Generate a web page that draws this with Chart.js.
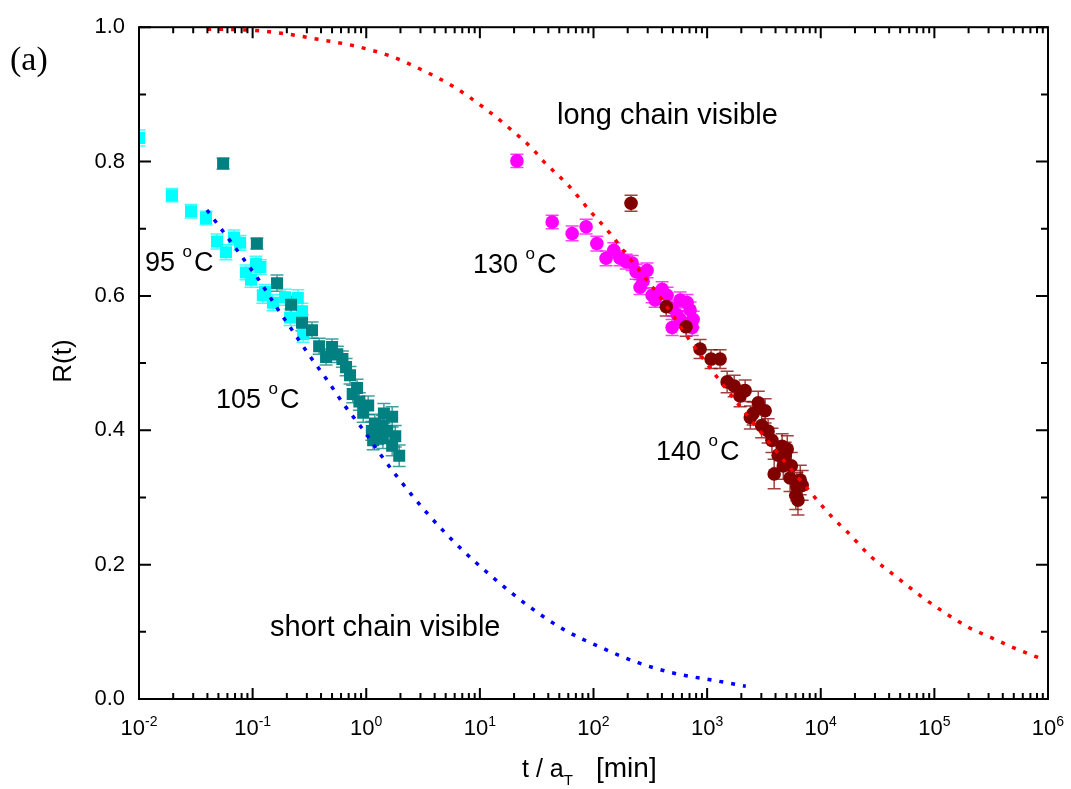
<!DOCTYPE html>
<html>
<head>
<meta charset="utf-8">
<title>R(t) master curves</title>
<script src="https://cdn.jsdelivr.net/npm/chart.js@4.4.1/dist/chart.umd.min.js"></script>
<style>
  html, body { margin: 0; padding: 0; background: #fff; }
  #chart { display: block; }
</style>
</head>
<body>
<canvas id="chart" width="1071" height="789"></canvas>
<script>
// 95 C, squares
const t95 = [0.0100, 0.0195, 0.0287, 0.0389, 0.0486, 0.0583, 0.0686, 0.0776, 0.0874, 0.0968,
  0.107, 0.117, 0.123, 0.1286, 0.151, 0.193, 0.214, 0.250, 0.272, 0.278];
const r95 = [0.835, 0.750, 0.726, 0.716, 0.681, 0.665, 0.687, 0.679, 0.635, 0.624,
  0.648, 0.643, 0.601, 0.606, 0.590, 0.598, 0.568, 0.597, 0.577, 0.543];
const e95 = [0.012, 0.010, 0.010, 0.010, 0.011, 0.011, 0.011, 0.011, 0.011, 0.011,
  0.011, 0.011, 0.012, 0.011, 0.012, 0.012, 0.012, 0.012, 0.012, 0.012];

// 105 C, squares
const t105 = [0.055, 0.109, 0.164, 0.218, 0.272, 0.333, 0.385, 0.443, 0.500, 0.556,
  0.617, 0.664, 0.720, 0.760, 0.830, 0.870, 0.940, 1.04, 1.12, 1.15,
  1.19, 1.26, 1.39, 1.40, 1.43, 1.53, 1.69, 1.69, 1.80, 1.95];
const r105 = [0.797, 0.678, 0.619, 0.587, 0.560, 0.549, 0.525, 0.509, 0.524, 0.513,
  0.506, 0.494, 0.482, 0.454, 0.463, 0.443, 0.426, 0.437, 0.399, 0.385,
  0.410, 0.393, 0.407, 0.388, 0.425, 0.399, 0.420, 0.377, 0.391, 0.362];
const e105 = [0.008, 0.008, 0.012, 0.012, 0.012, 0.012, 0.012, 0.012, 0.012, 0.012,
  0.012, 0.013, 0.013, 0.013, 0.013, 0.013, 0.014, 0.014, 0.014, 0.014,
  0.014, 0.014, 0.015, 0.015, 0.015, 0.015, 0.015, 0.015, 0.016, 0.016];

// 130 C, circles
const t130 = [21.2, 43.3, 64.9, 86.1, 107, 129, 151, 171, 194, 219,
  237, 257, 273, 296, 328, 349, 402, 444, 492, 492,
  545, 578, 578, 667, 708, 740, 753];
const r130 = [0.801, 0.710, 0.693, 0.703, 0.678, 0.656, 0.668, 0.656, 0.651, 0.649,
  0.636, 0.613, 0.622, 0.638, 0.601, 0.594, 0.610, 0.601, 0.582, 0.553,
  0.572, 0.594, 0.565, 0.590, 0.579, 0.553, 0.565];
const e130 = [0.010, 0.010, 0.011, 0.011, 0.011, 0.011, 0.011, 0.011, 0.011, 0.011,
  0.011, 0.011, 0.011, 0.011, 0.011, 0.011, 0.011, 0.012, 0.012, 0.012,
  0.012, 0.012, 0.012, 0.012, 0.012, 0.012, 0.012];

// 140 C, circles
const t140 = [214, 437, 653, 867, 1084, 1300, 1500, 1730, 1950, 2160,
  2400, 2540, 2820, 3020, 3240, 3440, 3720, 3890, 4220, 4570,
  4680, 4860, 5070, 5370, 5500, 6030, 6160, 6300, 6600, 6860];
const r140 = [0.738, 0.584, 0.554, 0.521, 0.506, 0.506, 0.472, 0.466, 0.451, 0.459,
  0.419, 0.425, 0.441, 0.407, 0.429, 0.399, 0.385, 0.335, 0.363, 0.376,
  0.347, 0.362, 0.372, 0.329, 0.347, 0.303, 0.316, 0.296, 0.326, 0.318];
const e140 = [0.012, 0.014, 0.014, 0.014, 0.014, 0.014, 0.016, 0.016, 0.016, 0.016,
  0.017, 0.017, 0.017, 0.018, 0.018, 0.018, 0.018, 0.022, 0.019, 0.019,
  0.020, 0.020, 0.020, 0.020, 0.020, 0.021, 0.021, 0.022, 0.022, 0.022];

// fitted curves
const tShort = [0.0396, 0.0824, 0.1186, 0.164, 0.227, 0.32, 0.452, 0.638, 0.918, 1.32,
  1.91, 3.5, 6.7, 12.8, 26, 54, 119, 247, 523, 1122, 2190];
const rShort = [0.728, 0.656, 0.619, 0.582, 0.547, 0.510, 0.475, 0.438, 0.403, 0.365,
  0.329, 0.275, 0.225, 0.182, 0.140, 0.104, 0.076, 0.054, 0.038, 0.028, 0.019];

const tLong = [0.0398, 0.0857, 0.18, 0.377, 0.795, 1.69, 3.5, 5.8, 11.1, 18.1,
  29.4, 36, 59.8, 91.5, 140, 171, 390, 723, 1225, 3110,
  8570, 13400, 17100, 27200, 46100, 75000, 122000, 198000, 330000, 536000, 871000];
const rLong = [0.997, 0.996, 0.991, 0.982, 0.972, 0.956, 0.932, 0.912, 0.879, 0.850,
  0.818, 0.801, 0.765, 0.728, 0.693, 0.674, 0.597, 0.531, 0.479, 0.393,
  0.303, 0.266, 0.249, 0.213, 0.182, 0.154, 0.129, 0.107, 0.090, 0.074, 0.060];

// axis ticks
const xDecades = [-2, -1, 0, 1, 2, 3, 4, 5, 6];
const yTicks = [0, 0.2, 0.4, 0.6, 0.8, 1.0];
const yMinor = [0.1, 0.3, 0.5, 0.7, 0.9];

const FONT = '"Liberation Sans", Arial, sans-serif';

function pts(xs, ys) {
  return xs.map((x, i) => ({ x: x, y: ys[i] }));
}

function series(label, xs, ys, errs, color, style, radius) {
  return {
    label: label,
    data: pts(xs, ys),
    errors: errs,
    errColor: color,
    showLine: false,
    pointStyle: style,
    pointRadius: radius,
    pointHoverRadius: radius,
    backgroundColor: color,
    borderColor: color,
    borderWidth: 0,
  };
}

function curve(label, xs, ys, color) {
  return {
    label: label,
    data: pts(xs, ys),
    showLine: true,
    borderColor: color,
    borderWidth: 3.5,
    borderDash: [4, 8],
    pointRadius: 0,
    fill: false,
    cubicInterpolationMode: "monotone",
  };
}

// draw several text pieces in a row, each with its own size and vertical shift
function drawRuns(ctx, x, y, runs, align) {
  let total = 0;
  runs.forEach((r) => {
    ctx.font = r.size + "px " + FONT;
    r.w = ctx.measureText(r.text).width;
    total += r.w + (r.gap || 0);
  });
  let cx = align === "center" ? x - total / 2 : x;
  runs.forEach((r) => {
    ctx.font = r.size + "px " + FONT;
    ctx.fillText(r.text, cx, y + (r.dy || 0));
    cx += r.w + (r.gap || 0);
  });
}

function tempLabel(ctx, x, y, num) {
  drawRuns(ctx, x, y, [
    { text: num + " ", size: 27 },
    { text: "o", size: 17, dy: -14, gap: 2 },
    { text: "C", size: 27 },
  ]);
}

// vertical error bars with caps
const errorBars = {
  id: "errorBars",
  beforeDatasetsDraw(chart) {
    const ctx = chart.ctx;
    const xs = chart.scales.x;
    const ys = chart.scales.y;
    const area = chart.chartArea;
    ctx.save();
    ctx.beginPath();
    ctx.rect(area.left, area.top, area.right - area.left, area.bottom - area.top);
    ctx.clip();
    chart.data.datasets.forEach((ds) => {
      if (!ds.errors) return;
      ctx.strokeStyle = ds.errColor;
      ctx.globalAlpha = 0.75;
      ctx.lineWidth = 1.5;
      ds.data.forEach((p, i) => {
        const px = xs.getPixelForValue(p.x);
        const top = ys.getPixelForValue(p.y + ds.errors[i]);
        const bot = ys.getPixelForValue(p.y - ds.errors[i]);
        ctx.beginPath();
        ctx.moveTo(px, top);
        ctx.lineTo(px, bot);
        ctx.moveTo(px - 6.5, top);
        ctx.lineTo(px + 6.5, top);
        ctx.moveTo(px - 6.5, bot);
        ctx.lineTo(px + 6.5, bot);
        ctx.stroke();
      });
    });
    ctx.restore();
  },
};

// box frame, inward ticks on all four sides, x labels and annotations
const frame = {
  id: "frame",
  afterDraw(chart) {
    const ctx = chart.ctx;
    const xs = chart.scales.x;
    const ys = chart.scales.y;
    const a = chart.chartArea;
    ctx.save();
    ctx.strokeStyle = "#000";
    ctx.lineWidth = 2;
    ctx.strokeRect(a.left, a.top, a.right - a.left, a.bottom - a.top);

    ctx.beginPath();
    xDecades.forEach((d, k) => {
      const major = xs.getPixelForValue(Math.pow(10, d));
      ctx.moveTo(major, a.bottom);
      ctx.lineTo(major, a.bottom - 11);
      ctx.moveTo(major, a.top);
      ctx.lineTo(major, a.top + 11);
      if (k === xDecades.length - 1) return;
      for (let m = 2; m <= 9; m++) {
        const px = xs.getPixelForValue(m * Math.pow(10, d));
        ctx.moveTo(px, a.bottom);
        ctx.lineTo(px, a.bottom - 6);
        ctx.moveTo(px, a.top);
        ctx.lineTo(px, a.top + 6);
      }
    });
    yTicks.forEach((v) => {
      const py = ys.getPixelForValue(v);
      ctx.moveTo(a.left, py);
      ctx.lineTo(a.left + 12, py);
      ctx.moveTo(a.right, py);
      ctx.lineTo(a.right - 12, py);
    });
    yMinor.forEach((v) => {
      const py = ys.getPixelForValue(v);
      ctx.moveTo(a.left, py);
      ctx.lineTo(a.left + 7, py);
      ctx.moveTo(a.right, py);
      ctx.lineTo(a.right - 7, py);
    });
    ctx.stroke();

    ctx.fillStyle = "#000";
    ctx.textBaseline = "alphabetic";
    ctx.textAlign = "left";
    xDecades.forEach((d) => {
      const px = xs.getPixelForValue(Math.pow(10, d));
      drawRuns(ctx, px, a.bottom + 36, [
        { text: "10", size: 22 },
        { text: String(d), size: 14, dy: -9 },
      ], "center");
    });

    // axis titles
    drawRuns(ctx, 522, 777, [
      { text: "t / a", size: 25 },
      { text: "T", size: 15, dy: 8 },
    ]);
    ctx.font = "28px " + FONT;
    ctx.fillText("[min]", 596, 777);

    ctx.save();
    ctx.translate(71, 361);
    ctx.rotate(-Math.PI / 2);
    ctx.textAlign = "center";
    ctx.font = "26px " + FONT;
    ctx.fillText("R(t)", 0, 0);
    ctx.restore();

    ctx.font = '34px "Liberation Serif", "Times New Roman", serif';
    ctx.fillText("(a)", 10, 70);

    tempLabel(ctx, 145, 271, "95");
    tempLabel(ctx, 216, 408, "105");
    tempLabel(ctx, 473, 273, "130");
    tempLabel(ctx, 656, 460, "140");

    ctx.font = "29px " + FONT;
    ctx.fillText("long chain visible", 557, 124);
    ctx.fillText("short chain visible", 270, 636);
    ctx.restore();
  },
};

const ctx = document.getElementById("chart").getContext("2d");
new Chart(ctx, {
  type: "scatter",
  data: {
    datasets: [
      curve("short chain visible", tShort, rShort, "#0000ff"),
      curve("long chain visible", tLong, rLong, "#ff0000"),
      series("140 C", t140, r140, e140, "#800000", "circle", 6.8),
      series("130 C", t130, r130, e130, "#ff00ff", "circle", 6.8),
      series("105 C", t105, r105, e105, "#008080", "rect", 8.5),
      series("95 C", t95, r95, e95, "#00ffff", "rect", 8.5),
    ],
  },
  options: {
    responsive: false,
    devicePixelRatio: 1,
    animation: false,
    layout: { padding: { left: 0, top: 19, right: 23, bottom: 0 } },
    plugins: {
      legend: { display: false },
      tooltip: { enabled: false },
    },
    scales: {
      x: {
        type: "logarithmic",
        min: 0.01,
        max: 1e6,
        grid: { display: false, drawTicks: false },
        border: { display: false },
        ticks: { display: false },
        afterFit: (s) => { s.height = 90; },
      },
      y: {
        min: 0,
        max: 1,
        grid: { display: false, drawTicks: false },
        border: { display: false },
        afterBuildTicks: (s) => { s.ticks = yTicks.map((v) => ({ value: v })); },
        ticks: {
          color: "#000",
          padding: 14,
          font: { family: FONT, size: 22 },
          callback: (v) => v.toFixed(1),
        },
        afterFit: (s) => { s.width = 139; },
      },
    },
  },
  plugins: [errorBars, frame],
});
</script>
</body>
</html>
